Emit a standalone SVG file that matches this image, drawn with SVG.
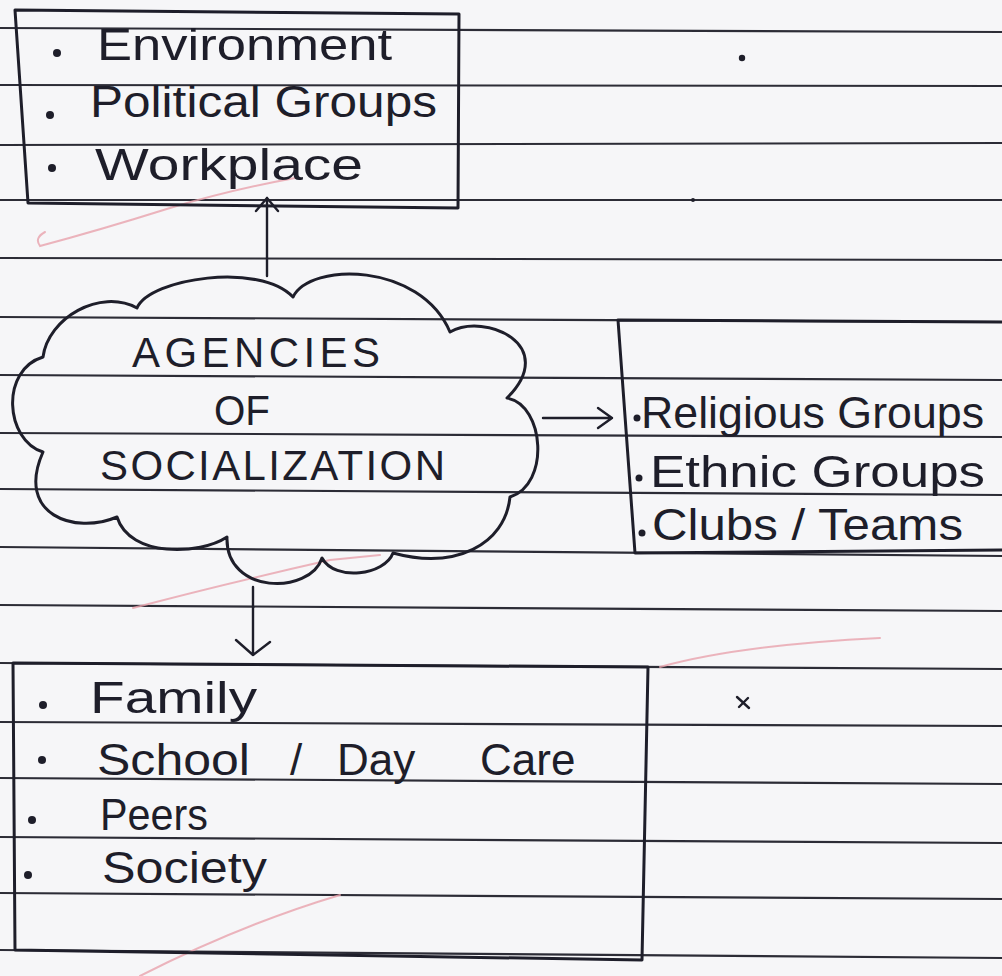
<svg xmlns="http://www.w3.org/2000/svg" width="1002" height="976" viewBox="0 0 1002 976">
  <style>
    .rule { stroke:#2c2c36; stroke-width:2.2; fill:none; }
    .ink { stroke:#1e1e2a; stroke-width:3; fill:none; stroke-linecap:round; stroke-linejoin:round; }
    .thin { stroke:#1e1e2a; stroke-width:2.4; fill:none; stroke-linecap:round; stroke-linejoin:round; }
    .pink { stroke:#e9a3ad; stroke-width:2; fill:none; opacity:0.8; stroke-linecap:round; }
    .dot { fill:#1e1e2a; }
    .t { font-family:"Liberation Sans", Arial, sans-serif; font-size:44px; fill:#1e1e2a; }
    .c { font-family:"Liberation Sans", Arial, sans-serif; font-size:42px; fill:#1e1e2a; }
  </style>
  <rect x="0" y="0" width="1002" height="976" fill="#f6f6f8"/>

  <g id="paper">
    <line class="rule" x1="0" y1="28" x2="1002" y2="32"/>
    <line class="rule" x1="0" y1="85" x2="1002" y2="86"/>
    <line class="rule" x1="0" y1="145" x2="1002" y2="143"/>
    <line class="rule" x1="0" y1="200" x2="1002" y2="200"/>
    <line class="rule" x1="0" y1="258" x2="1002" y2="260"/>
    <line class="rule" x1="0" y1="317" x2="1002" y2="322"/>
    <line class="rule" x1="0" y1="375" x2="1002" y2="380"/>
    <line class="rule" x1="0" y1="433" x2="1002" y2="437"/>
    <line class="rule" x1="0" y1="489" x2="1002" y2="495"/>
    <line class="rule" x1="0" y1="547" x2="1002" y2="556"/>
    <line class="rule" x1="0" y1="605" x2="1002" y2="611"/>
    <line class="rule" x1="0" y1="663" x2="1002" y2="669"/>
    <line class="rule" x1="0" y1="722" x2="1002" y2="726"/>
    <line class="rule" x1="0" y1="778" x2="1002" y2="784"/>
    <line class="rule" x1="0" y1="837" x2="1002" y2="843"/>
    <line class="rule" x1="0" y1="893" x2="1002" y2="899"/>
    <line class="rule" x1="0" y1="950" x2="1002" y2="958"/>
    <path class="pink" d="M45,232 Q34,238 40,246 Q100,230 170,208 Q230,190 295,178"/>
    <path class="pink" d="M133,608 Q220,585 330,560 L380,555"/>
    <path class="pink" d="M660,667 Q740,645 880,638"/>
    <path class="pink" d="M140,976 Q240,925 340,895"/>
    <circle class="dot" cx="742" cy="58" r="3.2"/>
    <path class="thin" d="M737,697 L749,708 M748,698 L739,707"/>
    <circle class="dot" cx="693" cy="200" r="2"/>
  </g>

  <g id="node-top">
    <path class="ink" d="M15,10 L459,14 L458,208 L28,203 Z"/>
    <circle class="dot" cx="57" cy="53" r="4"/>
    <text class="t" x="97" y="60" textLength="295" lengthAdjust="spacingAndGlyphs">Environment</text>
    <circle class="dot" cx="50" cy="115" r="4"/>
    <text class="t" x="90" y="117" textLength="347" lengthAdjust="spacingAndGlyphs">Political Groups</text>
    <circle class="dot" cx="52" cy="168" r="4"/>
    <text class="t" x="95" y="180" textLength="268" lengthAdjust="spacingAndGlyphs">Workplace</text>
  </g>

  <g id="node-cloud">
    <path class="ink" d="M43,357 C48,318 100,288 137,308 C150,278 260,262 293,297 C310,262 420,262 450,332 C485,312 560,345 507,398 C545,405 550,485 510,497 C505,545 455,570 393,553 C385,575 335,582 322,558 C310,595 225,595 227,537 C200,555 130,558 117,517 C75,535 15,515 43,452 C5,440 0,370 43,357 Z"/>
    <text class="c" x="132" y="367" textLength="248" lengthAdjust="spacing">AGENCIES</text>
    <text class="c" x="214" y="425" textLength="56" lengthAdjust="spacingAndGlyphs">OF</text>
    <text class="c" x="100" y="480" textLength="345" lengthAdjust="spacing">SOCIALIZATION</text>
  </g>

  <g id="node-right">
    <path class="ink" d="M1002,322 L618,320 L635,553 L1002,550"/>
    <circle class="dot" cx="637" cy="418" r="3.5"/>
    <text class="t" x="641" y="428" textLength="343" lengthAdjust="spacingAndGlyphs">Religious Groups</text>
    <circle class="dot" cx="639" cy="478" r="3.5"/>
    <text class="t" x="650" y="487" textLength="335" lengthAdjust="spacingAndGlyphs">Ethnic Groups</text>
    <circle class="dot" cx="642" cy="533" r="3.5"/>
    <text class="t" x="652" y="540" textLength="311" lengthAdjust="spacingAndGlyphs">Clubs / Teams</text>
  </g>

  <g id="node-bottom">
    <path class="ink" d="M13,663 L648,667 L642,960 L15,950 Z"/>
    <circle class="dot" cx="43" cy="705" r="4"/>
    <text class="t" x="90" y="713" textLength="167" lengthAdjust="spacingAndGlyphs">Family</text>
    <circle class="dot" cx="42" cy="760" r="4"/>
    <text class="t" y="775"><tspan x="97" textLength="153" lengthAdjust="spacingAndGlyphs">School</tspan><tspan x="290">/</tspan><tspan x="337">Day</tspan><tspan x="480">Care</tspan></text>
    <circle class="dot" cx="32" cy="820" r="4"/>
    <text class="t" x="100" y="830" textLength="108" lengthAdjust="spacingAndGlyphs">Peers</text>
    <circle class="dot" cx="28" cy="875" r="4"/>
    <text class="t" x="102" y="883" textLength="165" lengthAdjust="spacingAndGlyphs">Society</text>
  </g>

  <g id="connectors">
    <path class="thin" d="M267,276 L267,198 M256,211 L267,198 L278,211"/>
    <path class="thin" d="M543,418 L612,418 M598,408 L612,418 L598,428"/>
    <path class="thin" d="M253,587 L253,655 M236,640 L253,655 L270,642"/>
  </g>
</svg>
